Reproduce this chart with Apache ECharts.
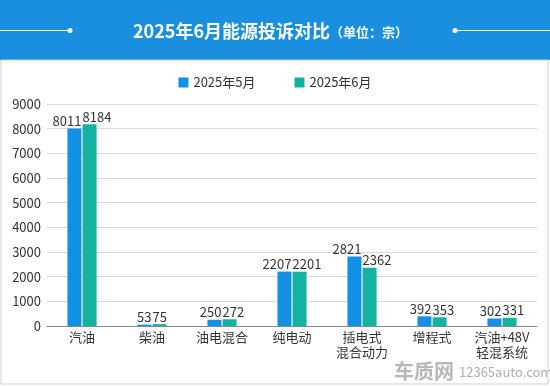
<!DOCTYPE html>
<html><head><meta charset="utf-8">
<script src="https://cdn.jsdelivr.net/npm/echarts@6/dist/echarts.min.js"></script>
<style>html,body{margin:0;padding:0;background:#fff}#c{width:550px;height:386px}</style>
</head><body><div id="c"></div>
<script>
const categories = ['汽油','柴油','油电混合','纯电动','插电式\n混合动力','增程式','汽油+48V\n轻混系统'];
const seriesNames = ['2025年5月','2025年6月'];
const may = [8011,53,250,2207,2821,392,302];
const june = [8184,75,272,2201,2362,353,331];
const yTicks = {min:0, max:9000, interval:1000};

const FONT = '"Noto Sans CJK SC", "Noto Sans", sans-serif';
const chart = echarts.init(document.getElementById('c'));
chart.setOption({
  animation:false,
  textStyle:{fontFamily:FONT},
  color:['#138fe3','#13b3a3'],
  graphic:[
    {type:'rect',shape:{x:0,y:0,width:550,height:60},style:{fill:'#1a8fe0'},z:-1},
    {type:'rect',shape:{x:1,y:60,width:547,height:324},style:{fill:'none',stroke:'#d0d0d0',lineWidth:1},z:-1},
    {type:'line',shape:{x1:0,y1:30.5,x2:70,y2:30.5},style:{stroke:'#ffffff',lineWidth:1}},
    {type:'circle',shape:{cx:70,cy:30.5,r:2.5},style:{fill:'#ffffff'}},
    {type:'line',shape:{x1:455,y1:30.5,x2:550,y2:30.5},style:{stroke:'#ffffff',lineWidth:1}},
    {type:'circle',shape:{cx:455,cy:30.5,r:2.5},style:{fill:'#ffffff'}},
    {type:'text',left:394,top:361,style:{text:'车质网',font:'bold 20px '+FONT,fill:'#b8b8b8'}},
    {type:'text',left:459,top:366,style:{text:'12365auto.com',font:'13px '+FONT,fill:'#b0b0b0'}}
  ],
  title:{
    text:'{a|2025年6月能源投诉对比}{b|（单位：宗）}',
    left:128, top:17,
    textStyle:{rich:{
      a:{fontSize:18,fontWeight:'bold',color:'#fff',fontFamily:FONT},
      b:{fontSize:13,color:'#fff',fontFamily:FONT,padding:[2,0,0,0]}
    }}
  },
  legend:{
    data:seriesNames, top:71, left:'center', itemWidth:10, itemHeight:10, itemGap:39,
    icon:'rect', textStyle:{fontSize:13,color:'#333',fontFamily:FONT}
  },
  grid:{left:47,right:13,top:104,bottom:60,containLabel:false},
  xAxis:{
    type:'category', data:categories,
    axisLine:{lineStyle:{color:'#888'}}, axisTick:{show:false},
    axisLabel:{fontSize:13,color:'#333',lineHeight:15,margin:4,interval:0}
  },
  yAxis:{
    type:'value', min:yTicks.min, max:yTicks.max, interval:yTicks.interval,
    axisLine:{show:false}, axisTick:{show:false},
    splitLine:{lineStyle:{color:'#d9d9d9'}},
    axisLabel:{fontSize:13,color:'#333',margin:6,formatter:function(v){return String(v);}}
  },
  series:[
    {name:seriesNames[0],type:'bar',data:may,barWidth:14,barGap:'8%',
     label:{show:true,position:'top',fontSize:13,color:'#333',distance:1,align:'right',offset:[7,0]}},
    {name:seriesNames[1],type:'bar',data:june,barWidth:14,
     label:{show:true,position:'top',fontSize:13,color:'#333',distance:1,align:'left',offset:[-7,0]}}
  ]
});
</script></body></html>
